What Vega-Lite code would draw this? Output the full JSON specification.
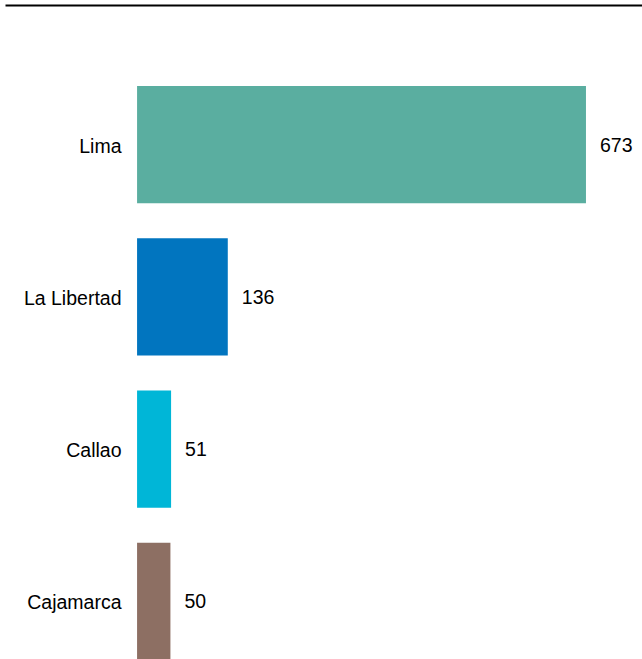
{
  "$schema": "https://vega.github.io/schema/vega-lite/v6.json",
  "width": 637,
  "height": 574,
  "autosize": {"type": "none"},
  "padding": {"left": 5, "top": 86, "right": 0, "bottom": 0},
  "background": "white",
  "config": {
    "view": {"stroke": null},
    "font": "Liberation Sans"
  },
  "data": {
    "values": [
      {"region": "Lima", "value": 673, "color": "#5aaea0"},
      {"region": "La Libertad", "value": 136, "color": "#0175bf"},
      {"region": "Callao", "value": 51, "color": "#00b6d7"},
      {"region": "Cajamarca", "value": 50, "color": "#8d6f63"}
    ]
  },
  "encoding": {
    "y": {
      "field": "region",
      "type": "nominal",
      "sort": null,
      "scale": {"paddingInner": 0.23, "paddingOuter": 0},
      "axis": {
        "title": null,
        "domain": false,
        "ticks": false,
        "offset": -132,
        "labelPadding": 16,
        "labelFontSize": 19.5,
        "labelOffset": 2,
        "labelColor": "#000000",
        "labelFont": "Liberation Sans"
      }
    },
    "x": {
      "field": "value",
      "type": "quantitative",
      "scale": {"domain": [-198, 757], "nice": false, "zero": false},
      "axis": {
        "orient": "top",
        "offset": 81,
        "title": null,
        "labels": false,
        "ticks": false,
        "grid": false,
        "domain": true,
        "domainColor": "#000000",
        "domainWidth": 2
      }
    }
  },
  "layer": [
    {
      "mark": {"type": "bar"},
      "encoding": {
        "x2": {"datum": 0},
        "color": {"field": "color", "type": "nominal", "scale": null, "legend": null}
      }
    },
    {
      "mark": {"type": "text", "align": "left", "baseline": "middle", "dx": 14, "dy": 1, "fontSize": 19.5, "color": "#000000", "font": "Liberation Sans"},
      "encoding": {
        "text": {"field": "value", "type": "quantitative"}
      }
    }
  ]
}
